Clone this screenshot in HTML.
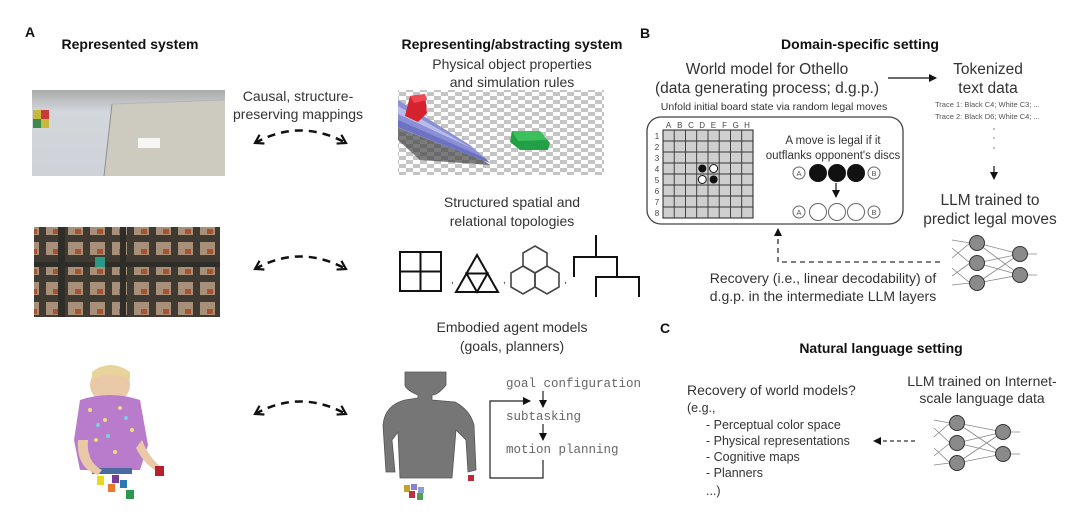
<!DOCTYPE html>
<html><head><meta charset="utf-8"><style>
html,body{margin:0;padding:0;background:#fff;width:1080px;height:524px;overflow:hidden}
svg{display:block}
text{font-family:"Liberation Sans",Arial,sans-serif}
.b{font-weight:bold;fill:#111}
.l{fill:#333;font-size:14px}
.m{font-family:"Liberation Mono",monospace;fill:#666;font-size:12.5px}
</style></head><body>
<svg width="1080" height="524" viewBox="0 0 1080 524" xmlns="http://www.w3.org/2000/svg">
<defs>
<marker id="ah" markerWidth="8" markerHeight="8" refX="7" refY="4" orient="auto" markerUnits="userSpaceOnUse"><path d="M0,0 L8,4 L0,8 z" fill="#111"/></marker>
<marker id="ao" markerWidth="12" markerHeight="12" refX="9" refY="6" orient="auto-start-reverse" markerUnits="userSpaceOnUse"><path d="M1,1 L9,6 L1,11" fill="none" stroke="#111" stroke-width="2.2"/></marker>
<pattern id="chk" width="14" height="8" patternUnits="userSpaceOnUse"><rect width="14" height="8" fill="#fff"/><rect width="7" height="4" fill="#c4c4c4"/><rect x="7" y="4" width="7" height="4" fill="#c4c4c4"/></pattern>
<pattern id="city" width="22" height="20" patternUnits="userSpaceOnUse"><rect width="22" height="20" fill="#3d3a33"/><rect x="2" y="2" width="15" height="13" fill="#b79d86"/><rect x="9" y="9" width="6" height="5" fill="#b5582e"/></pattern>
<linearGradient id="wall" x1="0" x2="0" y1="0" y2="1"><stop offset="0" stop-color="#a9aba9"/><stop offset="0.25" stop-color="#d3d6db"/><stop offset="1" stop-color="#cfd2d8"/></linearGradient>
</defs>

<text x="25" y="37" class="b" font-size="14">A</text>
<text x="130" y="49" class="b" font-size="14" text-anchor="middle">Represented system</text>
<text x="512" y="49" class="b" font-size="14" text-anchor="middle">Representing/abstracting system</text>
<text x="512" y="69" class="l" text-anchor="middle">Physical object properties</text>
<text x="512" y="87" class="l" text-anchor="middle">and simulation rules</text>
<text x="298" y="101" class="l" text-anchor="middle">Causal, structure-</text>
<text x="298" y="119" class="l" text-anchor="middle">preserving mappings</text>

<rect x="32" y="90" width="193" height="86" fill="url(#wall)"/>
<polygon points="112,105 225,100 225,176 104,176" fill="#cdcbbf"/>
<line x1="112" y1="104" x2="104" y2="176" stroke="#8f8f8f" stroke-width="1"/>
<line x1="112" y1="104" x2="225" y2="100" stroke="#b5b5b5" stroke-width="1"/>
<rect x="33" y="110" width="16" height="18" fill="#c8b83c"/><rect x="41" y="110" width="8" height="9" fill="#c63a3a"/><rect x="33" y="119" width="8" height="9" fill="#3a8a4a"/>
<rect x="138" y="138" width="22" height="10" fill="#f6f6f4"/>

<rect x="398" y="90" width="206" height="85" fill="url(#chk)"/>
<polygon points="398,100 398,140 420,160 490,165" fill="#444" opacity="0.7"/>
<polygon points="398,100 398,128 490,163 470,145" fill="#8a8fd6"/>
<polygon points="398,106 470,147 480,152 398,114" fill="#b8bce8"/>
<polygon points="398,120 485,158 490,163 398,127" fill="#6c72c2"/>
<polygon points="410,96 425,94 427,113 418,122 405,116" fill="#d4232e"/>
<polygon points="410,96 425,94 427,100 414,103" fill="#f04850"/>
<polygon points="512,131 540,131 550,143 548,150 520,150 510,142" fill="#23a046"/>
<polygon points="512,131 540,131 547,140 518,141" fill="#3bc05c"/>

<path d="M255,143 Q300,118 346,143" fill="none" stroke="#111" stroke-width="2.5" stroke-dasharray="8,6" marker-start="url(#ao)" marker-end="url(#ao)"/>
<path d="M255,269 Q300,244 346,269" fill="none" stroke="#111" stroke-width="2.5" stroke-dasharray="8,6" marker-start="url(#ao)" marker-end="url(#ao)"/>
<path d="M255,414 Q300,389 346,414" fill="none" stroke="#111" stroke-width="2.5" stroke-dasharray="8,6" marker-start="url(#ao)" marker-end="url(#ao)"/>

<rect x="34" y="227" width="186" height="90" fill="url(#city)"/>
<rect x="34" y="227" width="186" height="90" fill="#5a4030" opacity="0.15"/>
<rect x="58" y="227" width="7" height="90" fill="#2e2d28"/><rect x="120" y="227" width="6" height="90" fill="#2e2d28"/>
<rect x="34" y="262" width="186" height="5" fill="#2e2d28"/>
<rect x="95" y="257" width="10" height="10" fill="#2a9a86"/>

<text x="512" y="207" class="l" text-anchor="middle">Structured spatial and</text>
<text x="512" y="226" class="l" text-anchor="middle">relational topologies</text>

<g fill="none" stroke="#111" stroke-width="2">
<rect x="400" y="252" width="41" height="39"/><line x1="420.5" y1="252" x2="420.5" y2="291"/><line x1="400" y1="271.5" x2="441" y2="271.5"/>
<polygon points="477,255 456,292 498,292"/><polygon points="466.5,273.5 487.5,273.5 477,292"/>
</g>
<g fill="none" stroke="#444" stroke-width="1.6">
<polygon points="535,246 547,253 547,266 535,273 523,266 523,253"/>
<polygon points="523,266 535,273 535,287 523,294 511,287 511,273"/>
<polygon points="547,266 559,273 559,287 547,294 535,287 535,273"/>
</g>
<g fill="none" stroke="#111" stroke-width="2">
<path d="M596,235 V257 M574,277 V257 H617 V277 M596,297 V277 H639 V297"/>
</g>
<text x="451" y="283" font-size="10" fill="#333">,</text>
<text x="503" y="283" font-size="10" fill="#333">,</text>
<text x="564" y="283" font-size="10" fill="#333">,</text>

<text x="512" y="332" class="l" text-anchor="middle">Embodied agent models</text>
<text x="512" y="351" class="l" text-anchor="middle">(goals, planners)</text>

<ellipse cx="110" cy="385" rx="20" ry="18" fill="#e9c9a8"/>
<path d="M92,372 Q110,358 130,372 L130,380 Q110,370 92,380 z" fill="#e8d39a"/>
<path d="M80,400 Q110,390 140,400 L148,445 L140,470 L80,470 L74,440 z" fill="#b97ccc"/>
<g fill="#e9e07a"><circle cx="90" cy="410" r="2"/><circle cx="105" cy="420" r="2"/><circle cx="120" cy="408" r="2"/><circle cx="132" cy="430" r="2"/><circle cx="96" cy="440" r="2"/><circle cx="115" cy="452" r="2"/></g>
<g fill="#7ad0e0"><circle cx="98" cy="425" r="2"/><circle cx="126" cy="418" r="2"/><circle cx="108" cy="436" r="2"/><circle cx="88" cy="455" r="2"/></g>
<rect x="92" y="468" width="40" height="6" fill="#4a6aa0"/>
<path d="M78,440 Q76,468 98,475 L102,470 Q86,462 88,440z" fill="#e9c9a8"/>
<path d="M142,440 Q150,460 163,468 L160,473 Q145,466 136,448z" fill="#e9c9a8"/>
<rect x="155" y="466" width="9" height="10" fill="#b8202c"/>
<rect x="97" y="476" width="7" height="9" fill="#e8d820"/><rect x="112" y="475" width="7" height="8" fill="#7a3a9a"/><rect x="108" y="484" width="7" height="8" fill="#e87a2a"/><rect x="120" y="480" width="7" height="8" fill="#2a7ab0"/><rect x="126" y="490" width="8" height="9" fill="#2a9a4a"/>

<path d="M405,372 H446 V385 Q438,395 432,395 L432,400 L455,402 Q470,410 474,425 L476,470 L468,472 L466,440 L456,430 L452,478 H400 L398,432 L392,440 L395,472 L386,472 L383,425 Q385,405 405,400 L418,398 L418,395 Q406,390 405,385 z" fill="#767676" stroke="#555" stroke-width="0.8"/>
<rect x="468" y="475" width="6" height="6" fill="#c0283a"/>
<rect x="404" y="485" width="6" height="7" fill="#c8a030"/><rect x="411" y="484" width="6" height="6" fill="#8a80d0"/><rect x="418" y="487" width="6" height="6" fill="#8aa0d0"/><rect x="409" y="491" width="6" height="7" fill="#c03040"/><rect x="417" y="493" width="6" height="7" fill="#50a050"/>

<text x="506" y="387" class="m">goal configuration</text>
<text x="506" y="420" class="m">subtasking</text>
<text x="506" y="453" class="m">motion planning</text>
<line x1="543" y1="391" x2="543" y2="407" stroke="#222" stroke-width="1.2" marker-end="url(#ah)"/>
<line x1="543" y1="424" x2="543" y2="440" stroke="#222" stroke-width="1.2" marker-end="url(#ah)"/>
<path d="M543,460 V478 H490 V401 H530" fill="none" stroke="#222" stroke-width="1.2" marker-end="url(#ah)"/>

<text x="640" y="38" class="b" font-size="14">B</text>
<text x="860" y="49" class="b" font-size="14" text-anchor="middle">Domain-specific setting</text>
<text x="767" y="74" font-size="15.5" fill="#333" text-anchor="middle">World model for Othello</text>
<text x="767" y="93" font-size="15.5" fill="#333" text-anchor="middle">(data generating process; d.g.p.)</text>
<text x="774" y="110" font-size="10.5" fill="#333" text-anchor="middle">Unfold initial board state via random legal moves</text>
<line x1="888" y1="78" x2="936" y2="78" stroke="#111" stroke-width="1.3" marker-end="url(#ah)"/>
<text x="988" y="74" font-size="15.5" fill="#333" text-anchor="middle">Tokenized</text>
<text x="988" y="93" font-size="15.5" fill="#333" text-anchor="middle">text data</text>
<text x="935" y="107" font-size="7.5" fill="#555">Trace 1: Black C4; White C3; ...</text>
<text x="935" y="119" font-size="7.5" fill="#555">Trace 2: Black D6; White C4; ...</text>
<g fill="#777"><circle cx="994" cy="129" r="0.8"/><circle cx="994" cy="138" r="0.8"/><circle cx="994" cy="148" r="0.8"/></g>
<line x1="994" y1="166" x2="994" y2="179" stroke="#111" stroke-width="1.2" marker-end="url(#ah)"/>
<text x="990" y="205" font-size="15.5" fill="#333" text-anchor="middle">LLM trained to</text>
<text x="990" y="224" font-size="15.5" fill="#333" text-anchor="middle">predict legal moves</text>

<rect x="647" y="117" width="256" height="107" rx="14" fill="none" stroke="#444" stroke-width="1.3"/>
<g font-size="8" fill="#444" text-anchor="middle">
<text x="668.6" y="128">A</text><text x="679.8" y="128">B</text><text x="691" y="128">C</text><text x="702.2" y="128">D</text><text x="713.4" y="128">E</text><text x="724.6" y="128">F</text><text x="735.8" y="128">G</text><text x="747" y="128">H</text>
<text x="657" y="139">1</text><text x="657" y="150">2</text><text x="657" y="161">3</text><text x="657" y="172">4</text><text x="657" y="183">5</text><text x="657" y="194">6</text><text x="657" y="205">7</text><text x="657" y="216">8</text>
</g>
<rect x="663" y="130" width="90" height="88" fill="#cfcfcf" stroke="#222" stroke-width="1"/>
<g stroke="#333" stroke-width="0.9">
<line x1="674.2" y1="130" x2="674.2" y2="218"/><line x1="685.5" y1="130" x2="685.5" y2="218"/><line x1="696.7" y1="130" x2="696.7" y2="218"/><line x1="708" y1="130" x2="708" y2="218"/><line x1="719.2" y1="130" x2="719.2" y2="218"/><line x1="730.5" y1="130" x2="730.5" y2="218"/><line x1="741.7" y1="130" x2="741.7" y2="218"/>
<line x1="663" y1="141" x2="753" y2="141"/><line x1="663" y1="152" x2="753" y2="152"/><line x1="663" y1="163" x2="753" y2="163"/><line x1="663" y1="174" x2="753" y2="174"/><line x1="663" y1="185" x2="753" y2="185"/><line x1="663" y1="196" x2="753" y2="196"/><line x1="663" y1="207" x2="753" y2="207"/>
</g>
<circle cx="702.3" cy="168.5" r="4" fill="#111"/><circle cx="713.6" cy="168.5" r="4" fill="#fff" stroke="#111"/>
<circle cx="702.3" cy="179.5" r="4" fill="#fff" stroke="#111"/><circle cx="713.6" cy="179.5" r="4" fill="#111"/>
<text x="833" y="144" font-size="11.5" fill="#333" text-anchor="middle">A move is legal if it</text>
<text x="833" y="159" font-size="11.5" fill="#333" text-anchor="middle">outflanks opponent's discs</text>
<g stroke="#666" stroke-width="1" fill="#fff">
<circle cx="799" cy="173" r="6"/><circle cx="874" cy="173" r="6"/>
<circle cx="799" cy="212" r="6"/><circle cx="874" cy="212" r="6"/>
<circle cx="818" cy="212" r="8.5"/><circle cx="837" cy="212" r="8.5"/><circle cx="856" cy="212" r="8.5"/>
</g>
<g fill="#111"><circle cx="818" cy="173" r="9"/><circle cx="837" cy="173" r="9"/><circle cx="856" cy="173" r="9"/></g>
<g font-size="7.5" fill="#555" text-anchor="middle"><text x="799" y="176">A</text><text x="874" y="176">B</text><text x="799" y="215">A</text><text x="874" y="215">B</text></g>
<line x1="836" y1="183" x2="836" y2="197" stroke="#111" stroke-width="1.2" marker-end="url(#ah)"/>

<path d="M940,262 H778 V229" fill="none" stroke="#333" stroke-width="1.3" stroke-dasharray="5,4" marker-end="url(#ah)"/>
<text x="823" y="283" font-size="14" fill="#333" text-anchor="middle">Recovery (i.e., linear decodability) of</text>
<text x="823" y="301" font-size="14" fill="#333" text-anchor="middle">d.g.p. in the intermediate LLM layers</text>

<g stroke="#888" stroke-width="0.8">
<line x1="952" y1="240" x2="970" y2="243"/><line x1="952" y1="248" x2="970" y2="263"/><line x1="952" y1="258" x2="970" y2="243"/><line x1="952" y1="268" x2="970" y2="283"/><line x1="952" y1="276" x2="970" y2="263"/><line x1="952" y1="285" x2="970" y2="283"/>
<line x1="977" y1="243" x2="1020" y2="254"/><line x1="977" y1="243" x2="1020" y2="275"/><line x1="977" y1="263" x2="1020" y2="254"/><line x1="977" y1="263" x2="1020" y2="275"/><line x1="977" y1="283" x2="1020" y2="254"/><line x1="977" y1="283" x2="1020" y2="275"/>
<line x1="1020" y1="254" x2="1037" y2="254"/><line x1="1020" y1="275" x2="1037" y2="275"/>
</g>
<g fill="#8a8a8a" stroke="#333" stroke-width="1"><circle cx="977" cy="243" r="7.5"/><circle cx="977" cy="263" r="7.5"/><circle cx="977" cy="283" r="7.5"/><circle cx="1020" cy="254" r="7.5"/><circle cx="1020" cy="275" r="7.5"/></g>

<text x="660" y="333" class="b" font-size="14">C</text>
<text x="881" y="353" class="b" font-size="14" text-anchor="middle">Natural language setting</text>
<text x="982" y="386" font-size="14" fill="#333" text-anchor="middle">LLM trained on Internet-</text>
<text x="982" y="403" font-size="14" fill="#333" text-anchor="middle">scale language data</text>
<text x="687" y="395" font-size="14" fill="#333">Recovery of world models?</text>
<g font-size="12.5" fill="#333">
<text x="687" y="412">(e.g.,</text>
<text x="706" y="429">- Perceptual color space</text>
<text x="706" y="445">- Physical representations</text>
<text x="706" y="461">- Cognitive maps</text>
<text x="706" y="477">- Planners</text>
<text x="706" y="495">...)</text>
</g>
<line x1="915" y1="441" x2="874" y2="441" stroke="#333" stroke-width="1.2" stroke-dasharray="4,3" marker-end="url(#ah)"/>
<g stroke="#888" stroke-width="0.8">
<line x1="934" y1="420" x2="950" y2="423"/><line x1="934" y1="428" x2="950" y2="443"/><line x1="934" y1="437" x2="950" y2="423"/><line x1="934" y1="448" x2="950" y2="463"/><line x1="934" y1="456" x2="950" y2="443"/><line x1="934" y1="465" x2="950" y2="463"/>
<line x1="957" y1="423" x2="1003" y2="432"/><line x1="957" y1="423" x2="1003" y2="454"/><line x1="957" y1="443" x2="1003" y2="432"/><line x1="957" y1="443" x2="1003" y2="454"/><line x1="957" y1="463" x2="1003" y2="432"/><line x1="957" y1="463" x2="1003" y2="454"/>
<line x1="1003" y1="432" x2="1020" y2="432"/><line x1="1003" y1="454" x2="1020" y2="454"/>
</g>
<g fill="#8a8a8a" stroke="#333" stroke-width="1"><circle cx="957" cy="423" r="7.5"/><circle cx="957" cy="443" r="7.5"/><circle cx="957" cy="463" r="7.5"/><circle cx="1003" cy="432" r="7.5"/><circle cx="1003" cy="454" r="7.5"/></g>

<text x="22" y="535" font-size="15" fill="#bbb">Fig. 1. Using the same summary of cognitive models for recognition and comparison of model formalisms in LLMs</text>
</svg>
</body></html>
